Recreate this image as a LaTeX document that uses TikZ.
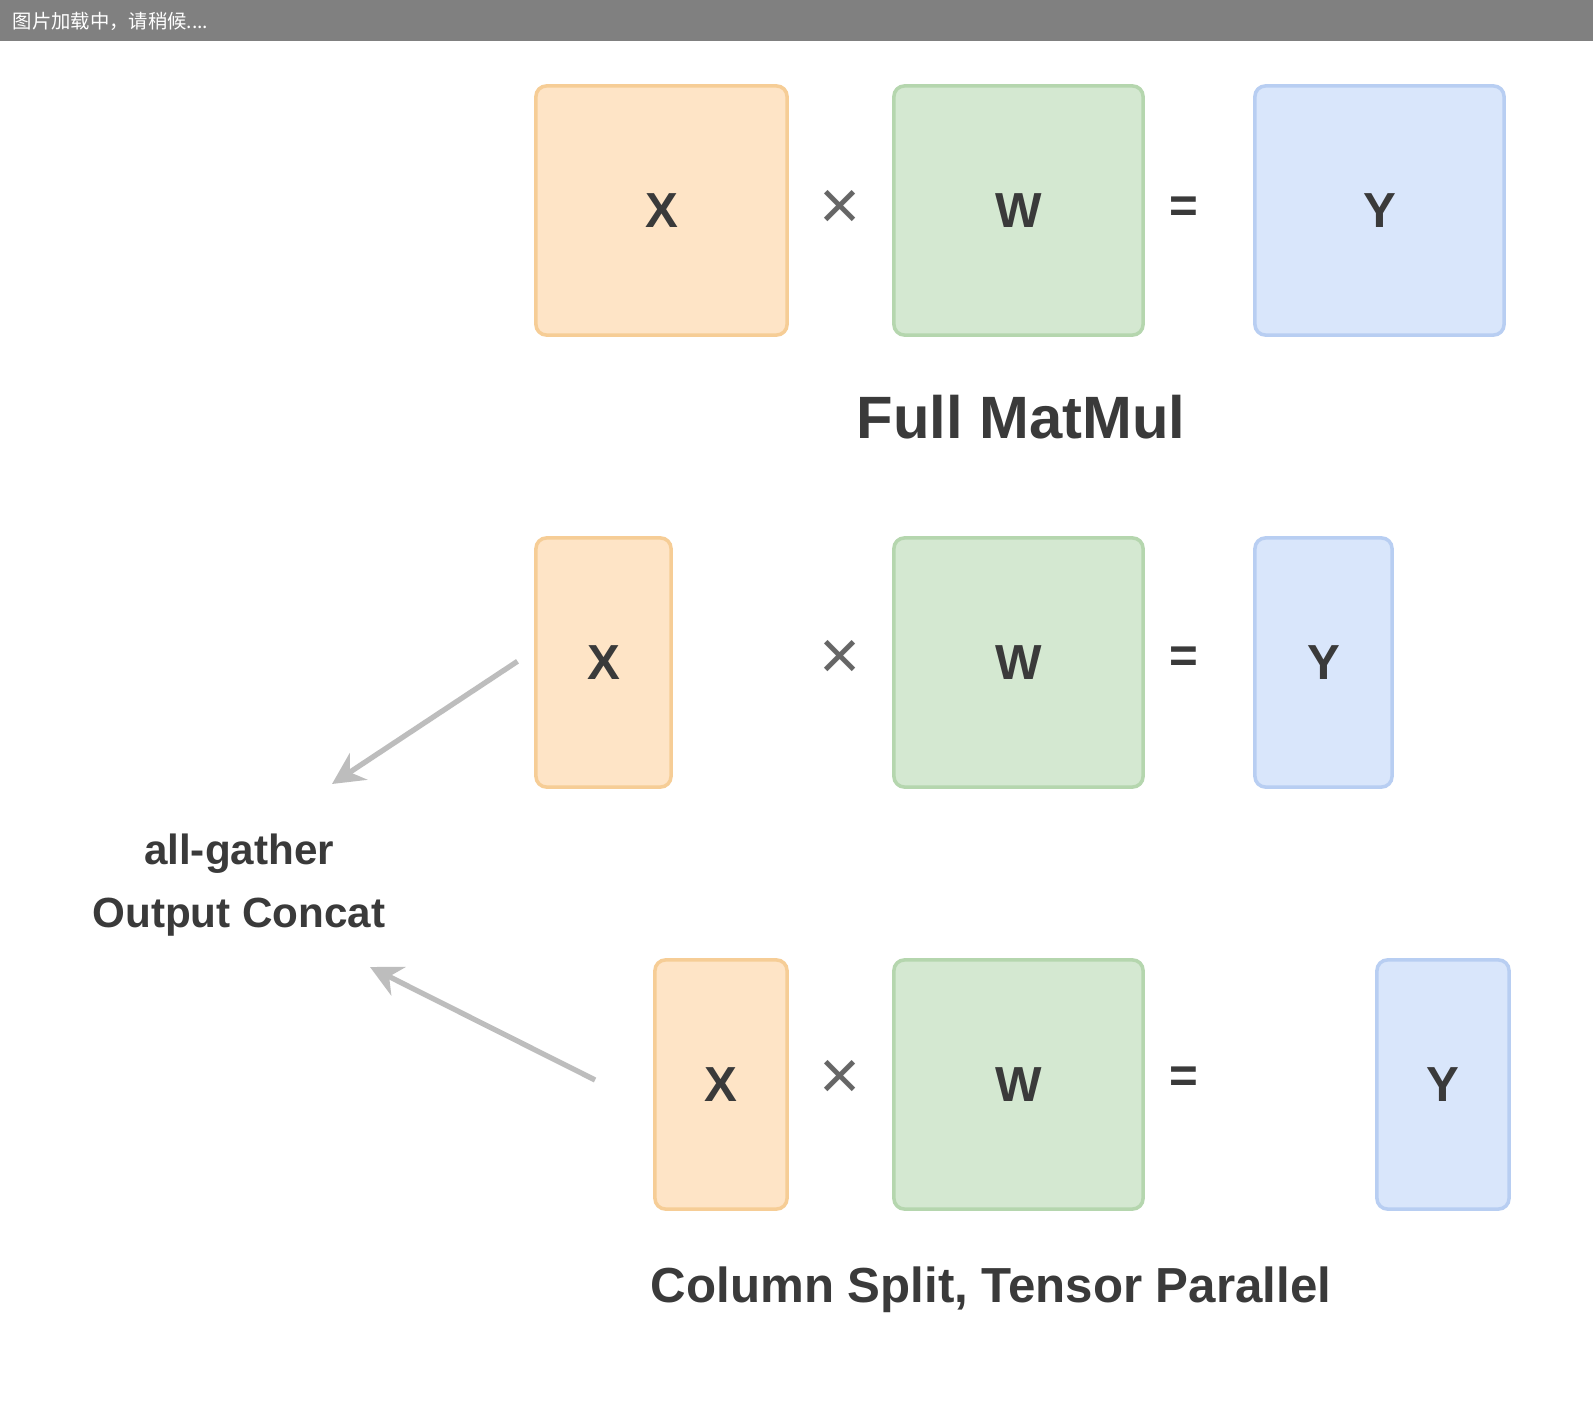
\documentclass[tikz,border=0pt]{standalone}
\usepackage{fontspec}
\setmainfont{Liberation Sans}
\newfontfamily\cjk{Noto Sans CJK SC}
\usetikzlibrary{arrows.meta}
\definecolor{barcol}{HTML}{808080}
\definecolor{orfill}{HTML}{FEE4C6}
\definecolor{ordraw}{HTML}{F6CD96}
\definecolor{grfill}{HTML}{D4E8D1}
\definecolor{grdraw}{HTML}{B5D6AE}
\definecolor{blfill}{HTML}{D9E6FB}
\definecolor{bldraw}{HTML}{B8CEF2}
\definecolor{txtcol}{HTML}{3A3A3A}
\definecolor{arrcol}{HTML}{BDBDBD}
\begin{document}
\begin{tikzpicture}[x=0.01cm,y=-0.01cm,
  mbox/.style={line width=1pt, rounded corners=3pt, inner sep=0pt,
    font=\fontsize{14}{16}\selectfont\bfseries, text=txtcol, minimum height=2.49cm},
  obox/.style={mbox, draw=ordraw, fill=orfill},
  gbox/.style={mbox, draw=grdraw, fill=grfill},
  bbox/.style={mbox, draw=bldraw, fill=blfill},
  mulop/.style={font=\fontsize{20}{22}\selectfont, text=gray!80!black, inner sep=1pt},
  eqop/.style={font=\fontsize{14}{16}\selectfont\bfseries, text=txtcol, inner sep=1pt},
  caption/.style={font=\fontsize{17}{20}\selectfont\bfseries, text=txtcol},
  arr/.style={draw=arrcol, line width=1.5pt, -{Stealth[length=9pt,width=9pt]}}]
\useasboundingbox (0,0) rectangle (1593,1413);
\fill[white] (0,0) rectangle (1593,1413);
% top loading bar
\fill[barcol] (0,0) rectangle (1593,41);
\node[anchor=west, text=white, font=\cjk\fontsize{5.5}{6}\selectfont, inner sep=0pt] (bar) at (12,21) {图片加载中，请稍候....};
% row 1
\node[obox, minimum width=2.51cm] (o1) at (661.5,210.5) {X};
\node[gbox, minimum width=2.49cm] (g1) at (1018.5,210.5) {W};
\node[bbox, minimum width=2.49cm] (b1) at (1379.5,210.5) {Y};
\node[mulop] (m1) at (840,210) {×};
\node[eqop] (e1) at (1184,210) {=};
\node[caption] (cap1) at (1021,417) {Full MatMul};
% row 2
\node[obox, minimum width=1.35cm] (o2) at (603.5,662.5) {X};
\node[gbox, minimum width=2.49cm] (g2) at (1018.5,662.5) {W};
\node[bbox, minimum width=1.37cm] (b2) at (1323.5,662.5) {Y};
\node[mulop] (m2) at (840,660) {×};
\node[eqop] (e2) at (1184,660) {=};
% row 3
\node[obox, minimum width=1.32cm] (o3) at (721,1084.5) {X};
\node[gbox, minimum width=2.49cm] (g3) at (1018.5,1084.5) {W};
\node[bbox, minimum width=1.32cm] (b3) at (1443,1084.5) {Y};
\node[mulop] (m3) at (840,1080) {×};
\node[eqop] (e3) at (1184,1080) {=};
\node[caption, font=\fontsize{14}{17}\selectfont\bfseries] (cap2) at (991,1290) {Column Split, Tensor Parallel};
% left label
\node[align=center, text=txtcol, font=\fontsize{12}{18}\selectfont\bfseries] (lbl) at (239,885) {all-gather\\Output Concat};
\coordinate (a1) at (332,784);
\coordinate (a2) at (370,967);
\draw[arr, shorten <=0.2cm] (o2.170) -- (a1);
\draw[arr, shorten <=0.65cm] (o3.200) -- (a2);
\end{tikzpicture}
\end{document}
